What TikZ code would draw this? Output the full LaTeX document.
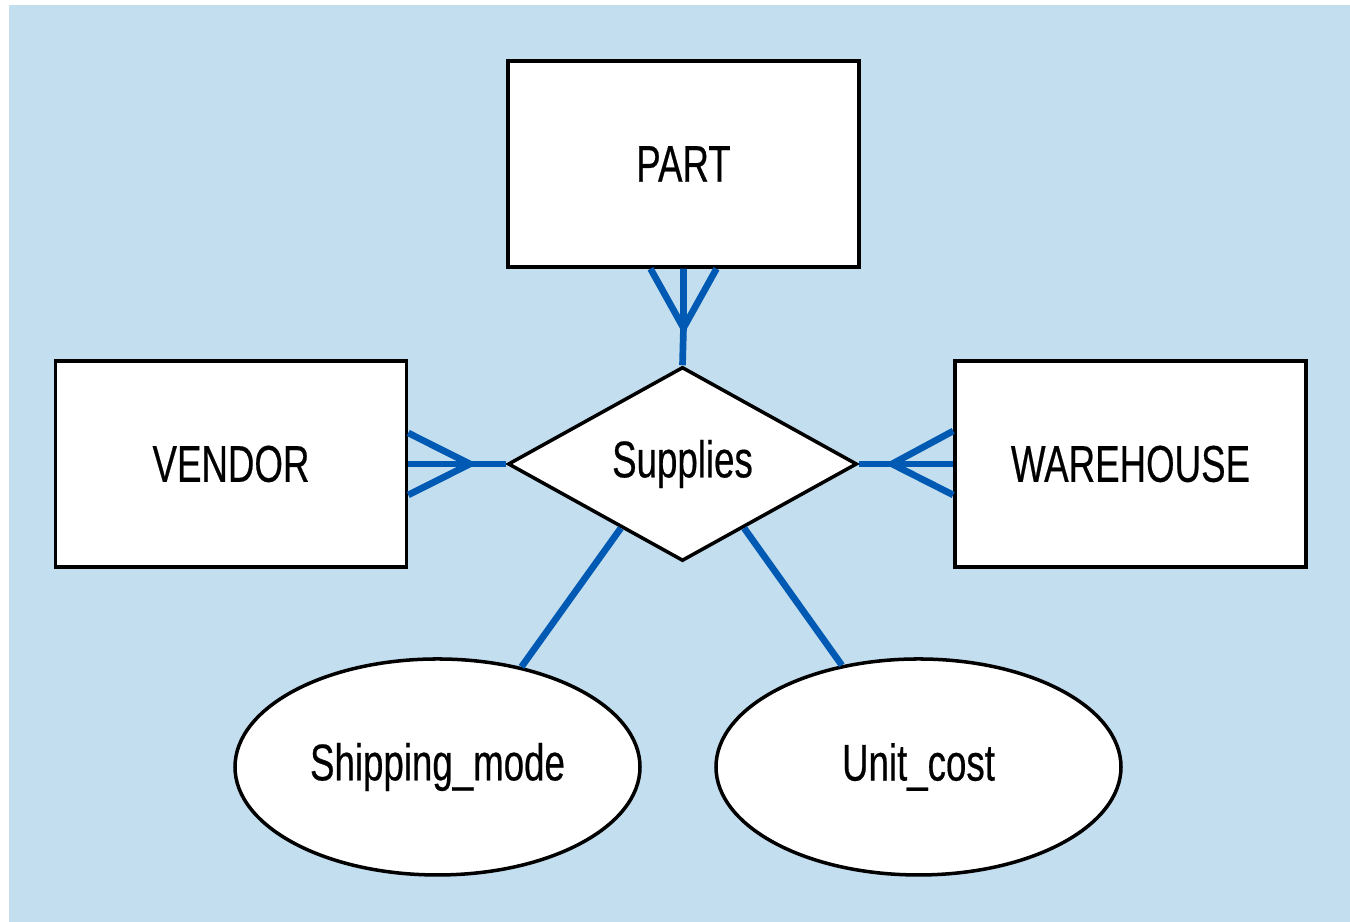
\documentclass[tikz,border=0pt]{standalone}
\usepackage{fontspec}
\setmainfont{Liberation Sans}[FakeStretch=0.71, FakeBold=0.4]
\usepackage{tikz}
\usetikzlibrary{calc}
\usetikzlibrary{shapes.geometric}
\definecolor{bgblue}{HTML}{C3DEEE}
\definecolor{relblue}{HTML}{0059B3}
\tikzstyle{entity} = [rectangle, 
minimum width=3.51cm, 
minimum height=2.06cm, 
text centered, 
draw=black, 
line width=1pt, 
fill=white, 
font=\fontsize{14.7}{17}\selectfont]
\tikzstyle{relship} = [diamond, 
minimum width=3.49cm, 
minimum height=1.94cm, 
inner sep=0pt, 
draw=black, 
line width=1pt, 
fill=white, 
font=\fontsize{14.7}{17}\selectfont]
\tikzstyle{attrib} = [ellipse, 
minimum width=4.05cm, 
minimum height=2.16cm, 
draw=black, 
line width=1pt, 
fill=white, 
font=\fontsize{14.7}{17}\selectfont]
\tikzstyle{relline} = [relblue, line width=1.9pt]
\begin{document}
\begin{tikzpicture}
    \useasboundingbox (0,0) rectangle (13.5,9.22);
    \fill [bgblue] (0.09,0) rectangle (13.5,9.17);

    % Connectors first, boxes on top
    \coordinate (pfork) at (6.835,5.94);
    \coordinate (vfork) at (4.70,4.58);
    \coordinate (wfork) at (8.92,4.58);

    \node (part) [entity] at (6.835,7.58) {PART};
    \node (vendor) [entity] at (2.31,4.58) {VENDOR};
    \node (warehouse) [entity] at (11.305,4.58) {WAREHOUSE};
    \node (supplies) [relship] at (6.825,4.58) {Supplies};
    \node (shipping) [attrib] at (4.375,1.55) {Shipping\_mode};
    \node (unitcost) [attrib] at (9.185,1.55) {Unit\_cost};

    % Crow's feet (many side)
    \draw [relline] (supplies.north) -- (pfork) -- (part.south);
    \draw [relline] ($(part.south)+(-0.33,0)$) -- (pfork) -- ($(part.south)+(0.33,0)$);
    \draw [relline] (supplies.west) -- (vfork) -- (vendor.east);
    \draw [relline] ($(vendor.east)+(0,0.31)$) -- (vfork) -- ($(vendor.east)+(0,-0.31)$);
    \draw [relline] (supplies.east) -- (wfork) -- (warehouse.west);
    \draw [relline] ($(warehouse.west)+(0,0.33)$) -- (wfork) -- ($(warehouse.west)+(0,-0.31)$);

    % Attributes
    \draw [relline] ($(supplies.west)!0.65!(supplies.south)$) -- (shipping.50);
    \draw [relline] ($(supplies.east)!0.65!(supplies.south)$) -- (unitcost.127);
  \end{tikzpicture}
\end{document}
